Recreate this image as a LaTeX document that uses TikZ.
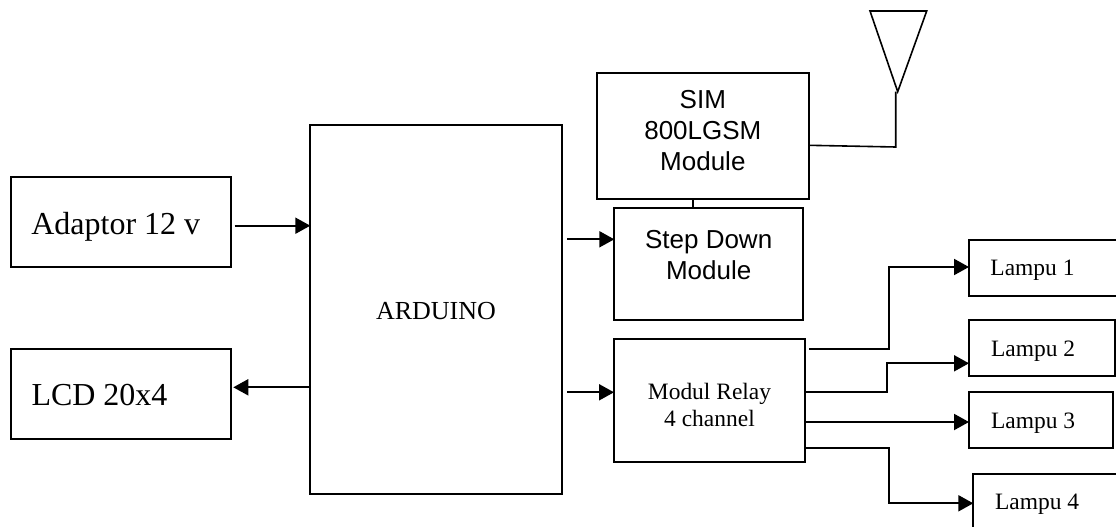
\documentclass[tikz,border=0pt]{standalone}
\usepackage{fontspec}
\setmainfont{Liberation Serif}
\newfontfamily\arialf{Liberation Sans}
\usetikzlibrary{arrows.meta}
\tikzset{
  box/.style={draw=black,line width=1.75pt,fill=white,inner sep=0pt,outer sep=0pt,text depth=0pt},
  bigtxt/.style={font=\fontsize{24}{28}\selectfont},
  lamptxt/.style={font=\fontsize{17.6}{21}\selectfont},
  sanstxt/.style={align=center,font=\arialf\fontsize{19.5}{23.25}\selectfont},
  relaytxt/.style={align=center,font=\fontsize{17.6}{20.8}\selectfont},
  conn/.style={line width=1.5pt,draw=black},
  arr/.style={conn,-{Triangle[length=11.25pt,width=12pt]}},
  thin line/.style={line width=1.2pt,draw=black,line join=miter}
}
\newcommand{\bx}[7]{\node[box,#6,anchor=north west,minimum width={(#4-#2)*0.75pt},minimum height={(#5-#3)*0.75pt}] (#1) at (#2,#3) {#7};}
\begin{document}
\begin{tikzpicture}[x=0.75pt,y=-0.75pt]
\clip (0,0) rectangle (1116,527);
\bx{adaptor}{10.7}{177.3}{230.7}{266.7}{bigtxt,text height=18pt}{\hspace{-7.35pt}Adaptor 12 v}
\bx{lcd}{10.7}{349.3}{230.7}{438.7}{bigtxt,text height=16.5pt}{\hspace{-31.8pt}LCD 20x4}
\bx{ard}{310.3}{125}{561.7}{493.7}{font=\fontsize{19.5}{23}\selectfont,text height=14.5pt}{ARDUINO}
\bx{sim}{597}{73}{808.7}{198.7}{sanstxt,text height=52.7pt}{SIM\\800LGSM\\Module}
\bx{step}{614.3}{207.7}{803}{320}{sanstxt,text height=24.2pt}{Step Down\\Module}
\bx{relay}{614}{339.3}{805}{462.3}{relaytxt,text height=38.9pt}{Modul Relay\\4 channel}
\bx{l1}{969}{240}{1118}{295.7}{lamptxt,text height=11.8pt}{\hspace{-16.6pt}Lampu 1}
\bx{l2}{969}{320}{1115.3}{376}{lamptxt,text height=13pt}{\hspace{-13.5pt}Lampu 2}
\bx{l3}{969}{392.3}{1113.3}{448.3}{lamptxt,text height=13pt}{\hspace{-12pt}Lampu 3}
\bx{l4}{973.3}{473.7}{1120}{532}{lamptxt,text height=10.7pt}{\hspace{-14.4pt}Lampu 4}
% antenna
\coordinate (tipA) at (897.7,91.7);
\coordinate (tipL) at (870,11);
\coordinate (tipR) at (926.7,11);
\coordinate (stemTop) at (895.7,91.7);
\coordinate (stemBot) at (895.7,147);
\coordinate (simOut) at (sim.east|-0,145.3);
\draw[thin line] (tipL) -- (tipR) -- (tipA) -- cycle;
\draw[thin line] (stemTop) -- (stemBot) -- (simOut);
% sim to step
\coordinate (simS) at (693,198.7);
\coordinate (stepN) at (693,207.7);
\draw[conn] (simS) -- (stepN);
% arrows
\coordinate (a1) at (234.7,225.7);
\coordinate (a2) at (ard.west|-0,387.3);
\coordinate (a2e) at (233.3,387.3);
\coordinate (a3) at (567.3,239.3);
\coordinate (a4) at (567.3,392.3);
\draw[arr] (a1) -- (a1-|ard.west);
\draw[arr] (a2) -- (a2e);
\draw[arr] (a3) -- (a3-|step.west);
\draw[arr] (a4) -- (a4-|relay.west);
\coordinate (r1) at (809,349);
\coordinate (r2) at (relay.east|-0,392.3);
\coordinate (r3) at (relay.east|-0,422);
\coordinate (r4) at (relay.east|-0,448.3);
\coordinate (t1) at (l1.west|-0,267);
\coordinate (t2) at (l2.west|-0,363.3);
\coordinate (t3) at (l3.west|-0,422);
\coordinate (t4) at (l4.west|-0,503.3);
\draw[arr] (r1) -| (888.7,308) |- (t1);
\draw[arr] (r2) -| (887,378) |- (t2);
\draw[arr] (r3) -- (t3);
\draw[arr] (r4) -| (889,476) |- (t4);
\end{tikzpicture}
\end{document}
